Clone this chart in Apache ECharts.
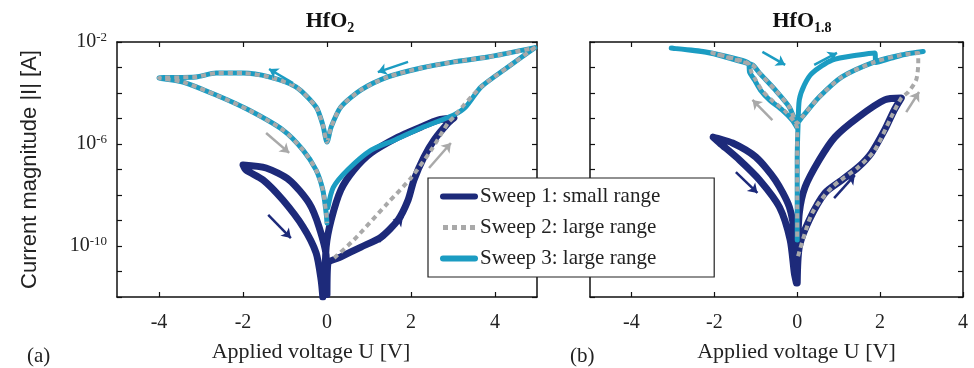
<!DOCTYPE html>
<html>
<head>
<meta charset="utf-8">
<script src="https://cdn.jsdelivr.net/npm/echarts@6/dist/echarts.min.js"></script>
<style>
  html, body { margin: 0; padding: 0; background: #fff; }
  #chart { width: 974px; height: 368px; }
</style>
</head>
<body>
<div id="chart"></div>
<script>
// values are [voltage V, log10 of |I| in A]
const xTicks = [-4, -2, 0, 2, 4];
const yLabelTicks = [-10, -6, -2];
const sweepNames = ['Sweep 1: small range', 'Sweep 2: large range', 'Sweep 3: large range'];

const hfo2Sweep1 = [
  [0.0, -11.9], [0.02, -10.7], [0.33, -10.43], [0.81, -10.04], [1.29, -9.65], [1.69, -8.98],
  [1.93, -8.2], [2.07, -7.41], [2.31, -6.51], [2.55, -5.84], [2.88, -5.18], [3.02, -4.98],
  [2.64, -5.06], [2.24, -5.33], [1.69, -5.73], [1.05, -6.35], [0.64, -7.02], [0.33, -7.8],
  [0.1, -8.98], [-0.02, -10.04], [-0.05, -11.84],
  [-0.02, -10.43], [-0.19, -9.25], [-0.43, -8.31], [-0.9, -7.41], [-1.45, -6.94], [-2.0, -6.82],
  [-1.93, -7.02], [-1.52, -7.41], [-1.05, -8.2], [-0.57, -9.25], [-0.26, -10.27], [-0.14, -11.33], [-0.1, -12]
];
const hfo2Sweep2 = [
  [0.17, -10.47], [0.64, -9.76], [1.45, -8.31], [2.0, -7.33], [2.48, -6.24], [2.88, -5.18],
  [3.02, -4.94], [3.26, -4.47], [3.67, -3.76], [4.31, -2.98], [4.93, -2.24],
  [3.83, -2.59], [3.02, -2.78], [2.24, -3.02], [1.45, -3.37], [0.81, -3.88], [0.33, -4.55],
  [0.1, -5.33], [0.0, -5.92],
  [-0.1, -5.25], [-0.26, -4.55], [-0.74, -3.76], [-1.38, -3.37], [-2.0, -3.22], [-2.64, -3.22],
  [-3.12, -3.37], [-4.0, -3.41],
  [-3.43, -3.57], [-2.64, -4.08], [-1.86, -4.67], [-1.05, -5.45], [-0.57, -6.24], [-0.26, -7.02],
  [-0.1, -7.8], [-0.02, -8.71], [0.0, -9.1]
];
const hfo2Sweep3 = [
  [0.02, -8.5], [0.15, -7.7], [0.5, -7.0], [1.05, -6.24], [1.6, -5.85], [2.24, -5.37],
  [3.02, -4.86], [3.3, -4.55], [3.67, -3.76], [4.31, -2.98], [4.95, -2.22],
  [3.83, -2.59], [3.02, -2.78], [2.24, -3.02], [1.45, -3.37], [0.81, -3.88], [0.33, -4.55],
  [0.1, -5.33], [0.0, -5.92],
  [-0.1, -5.25], [-0.26, -4.55], [-0.74, -3.76], [-1.38, -3.37], [-2.0, -3.22], [-2.64, -3.22],
  [-3.12, -3.37], [-4.0, -3.41],
  [-3.43, -3.57], [-2.64, -4.08], [-1.86, -4.67], [-1.05, -5.45], [-0.57, -6.24], [-0.26, -7.02],
  [-0.1, -7.8], [-0.02, -8.71], [0.0, -9.1]
];

const hfo18Sweep1 = [
  [0.0, -11.45], [0.05, -10.04], [0.29, -8.98], [0.67, -7.92], [1.08, -7.41], [1.48, -6.9],
  [1.79, -6.35], [2.11, -5.45], [2.34, -4.67], [2.51, -4.2],
  [2.11, -4.27], [1.48, -4.94], [0.91, -5.73], [0.53, -6.63], [0.19, -7.69], [0.05, -8.71],
  [0.0, -10.43], [-0.02, -11.45],
  [-0.05, -9.76], [-0.19, -8.47], [-0.53, -7.41], [-1.0, -6.51], [-1.56, -5.96], [-2.03, -5.73],
  [-1.87, -5.96], [-1.39, -6.63], [-0.91, -7.41], [-0.43, -8.47], [-0.17, -9.76], [-0.07, -11.06], [-0.02, -11.45]
];
const hfo18Sweep2 = [
  [0.02, -10.4], [0.36, -8.71], [0.84, -7.69], [1.48, -6.9], [1.87, -6.24], [2.27, -4.94],
  [2.51, -4.2], [2.68, -3.96], [2.87, -3.49], [2.92, -2.82], [2.92, -2.43],
  [2.51, -2.51], [1.87, -2.78], [1.08, -3.37], [0.53, -4.16], [0.12, -4.94], [0.0, -5.18],
  [-0.19, -4.55], [-0.53, -3.88], [-0.91, -3.22], [-1.08, -2.9], [-1.32, -2.78], [-2.05, -2.43],
  [-1.32, -2.74], [-1.17, -2.86], [-1.1, -3.2], [-1.0, -3.5], [-0.85, -3.9], [-0.6, -4.3],
  [-0.3, -4.7], [-0.08, -5.1], [0.0, -5.4], [0.0, -6.6], [0.0, -8.2], [0.0, -9.76]
];
const hfo18Sweep3 = [
  [0.0, -9.76], [0.0, -8.2], [0.0, -6.63], [0.02, -5.25], [0.05, -4.27], [0.17, -3.69],
  [0.36, -3.22], [0.84, -2.71], [1.48, -2.51], [1.87, -2.43], [1.9, -2.8], [2.27, -2.63],
  [2.63, -2.47], [3.04, -2.37],
  [2.51, -2.51], [1.87, -2.78], [1.08, -3.37], [0.53, -4.16], [0.12, -4.94], [0.0, -5.18],
  [-0.19, -4.55], [-0.53, -3.88], [-0.91, -3.22], [-1.08, -2.9], [-1.32, -2.78], [-2.11, -2.43], [-3.04, -2.24],
  [-2.27, -2.37], [-1.32, -2.72], [-1.17, -2.84], [-1.15, -3.18], [-1.03, -3.49], [-0.89, -3.88],
  [-0.67, -4.27], [-0.36, -4.67], [-0.12, -5.06], [0.0, -5.37]
];

// direction arrows: [from, to]
const hfo2Arrows1 = [[[-1.40, -8.78], [-0.86, -9.69]], [[1.24, -9.84], [1.81, -8.86]]];
const hfo2Arrows2 = [[[-1.45, -5.57], [-0.9, -6.35]], [[2.43, -6.94], [2.95, -5.96]]];
const hfo2Arrows3 = [[[-0.81, -3.61], [-1.38, -3.06]], [[1.93, -2.78], [1.21, -3.18]]];
const hfo18Arrows1 = [[[-1.48, -7.1], [-0.96, -7.92]], [[0.89, -8.12], [1.39, -7.22]]];
const hfo18Arrows2 = [[[-0.6, -5.06], [-1.08, -4.27]], [[2.63, -4.75], [2.94, -3.96]]];
const hfo18Arrows3 = [[[-0.84, -2.39], [-0.29, -2.9]], [[0.41, -2.9], [0.96, -2.43]]];

const navy = '#1d2a7a';
const gray = '#a9a9a9';
const cyan = '#1b9cc2';
const serif = 'Liberation Serif';

const chart = echarts.init(document.getElementById('chart'));

function xAxisFor(grid, max, top) {
  return {
    type: 'value', gridIndex: grid, min: -5, max: max, position: top ? 'top' : 'bottom',
    axisLine: { show: true, onZero: false, lineStyle: { color: '#111', width: 1.5 } },
    axisTick: { show: true, inside: true, length: 5, customValues: xTicks, lineStyle: { color: '#111', width: 1.2 } },
    axisLabel: {
      show: !top, customValues: xTicks, margin: 16,
      fontFamily: serif, fontSize: 20, color: '#222'
    },
    splitLine: { show: false },
    name: top ? '' : 'Applied voltage U [V]',
    nameLocation: 'middle', nameGap: 44,
    nameTextStyle: {
      fontFamily: serif, fontSize: 22, color: '#222',
      padding: grid === 0 ? [0, 32, 0, 0] : [0, 0, 0, 40]
    }
  };
}

function yAxisFor(grid, right, labels) {
  return {
    type: 'value', gridIndex: grid, min: -12, max: -2, interval: 1,
    position: right ? 'right' : 'left',
    axisLine: { show: true, onZero: false, lineStyle: { color: '#111', width: 1.5 } },
    axisTick: { show: true, inside: true, length: 5, lineStyle: { color: '#111', width: 1.2 } },
    axisLabel: {
      show: labels, customValues: yLabelTicks, margin: 10,
      formatter: v => '{b|10}{s|' + v + '}',
      rich: {
        b: { fontFamily: serif, fontSize: 20, color: '#222' },
        s: { fontFamily: serif, fontSize: 13, color: '#222', verticalAlign: 'top', padding: [0, 0, 8, 0] }
      }
    },
    splitLine: { show: false },
    name: labels ? 'Current magnitude |I| [A]' : '',
    nameLocation: 'middle', nameGap: 76,
    nameTextStyle: { fontFamily: 'Liberation Sans', fontSize: 22, color: '#222' }
  };
}

function curve(name, data, xi, color, width, dashed, z) {
  return {
    name: name, type: 'line', xAxisIndex: xi, yAxisIndex: xi, data: data,
    showSymbol: false, symbol: 'none', smooth: 0.25, z: z, silent: true,
    lineStyle: {
      color: color, width: width, type: dashed ? [5, 4] : 'solid',
      cap: dashed ? 'butt' : 'round', join: 'round'
    },
    itemStyle: { color: color }
  };
}

function arrows(list, xi, color) {
  return {
    type: 'lines', coordinateSystem: 'cartesian2d', xAxisIndex: xi, yAxisIndex: xi,
    symbol: ['none', 'arrow'], symbolSize: 9, z: 5, silent: true,
    lineStyle: { color: color, width: 2.5, opacity: 1 },
    data: list.map(a => ({ coords: a }))
  };
}

const titleRich = {
  m: { fontFamily: serif, fontSize: 22, fontWeight: 'bold', color: '#111', lineHeight: 28 },
  s: { fontFamily: serif, fontSize: 14, fontWeight: 'bold', color: '#111', lineHeight: 28, verticalAlign: 'bottom' }
};

chart.setOption({
  animation: false,
  title: [
    { text: '{m|HfO}{s|2}', left: 325, top: 2, textAlign: 'center', textStyle: { rich: titleRich } },
    { text: '{m|HfO}{s|1.8}', left: 797, top: 2, textAlign: 'center', textStyle: { rich: titleRich } },
    { text: '(a)', left: 22, top: 341, textStyle: { fontFamily: serif, fontSize: 21, fontWeight: 'normal', color: '#222' } },
    { text: '(b)', left: 565, top: 341, textStyle: { fontFamily: serif, fontSize: 21, fontWeight: 'normal', color: '#222' } }
  ],
  legend: {
    data: [
      { name: sweepNames[0], lineStyle: { width: 6 } },
      { name: sweepNames[1], lineStyle: { width: 5 } },
      { name: sweepNames[2], lineStyle: { width: 6 } }
    ],
    orient: 'vertical', left: 428, top: 178,
    backgroundColor: '#fff', borderColor: '#222', borderWidth: 1.2, borderRadius: 0,
    padding: [8, 54, 8, 12], itemWidth: 32, itemHeight: 20, itemGap: 10,
    itemStyle: { opacity: 0 },
    textStyle: { fontFamily: serif, fontSize: 21, color: '#222' }
  },
  grid: [
    { left: 117, right: 437, top: 42, bottom: 71 },
    { left: 590, right: 11, top: 42, bottom: 71 }
  ],
  xAxis: [xAxisFor(0, 5, false), xAxisFor(1, 4, false), xAxisFor(0, 5, true), xAxisFor(1, 4, true)],
  yAxis: [yAxisFor(0, false, true), yAxisFor(1, false, false), yAxisFor(0, true, false), yAxisFor(1, true, false)],
  series: [
    curve(sweepNames[0], hfo2Sweep1, 0, navy, 7, false, 2),
    curve(sweepNames[2], hfo2Sweep3, 0, cyan, 5, false, 3),
    curve(sweepNames[1], hfo2Sweep2, 0, gray, 4, true, 4),
    curve(sweepNames[0], hfo18Sweep1, 1, navy, 7, false, 2),
    curve(sweepNames[2], hfo18Sweep3, 1, cyan, 5, false, 3),
    curve(sweepNames[1], hfo18Sweep2, 1, gray, 4, true, 4),
    arrows(hfo2Arrows1, 0, navy),
    arrows(hfo2Arrows2, 0, gray),
    arrows(hfo2Arrows3, 0, cyan),
    arrows(hfo18Arrows1, 1, navy),
    arrows(hfo18Arrows2, 1, gray),
    arrows(hfo18Arrows3, 1, cyan)
  ]
});
</script>
</body>
</html>
